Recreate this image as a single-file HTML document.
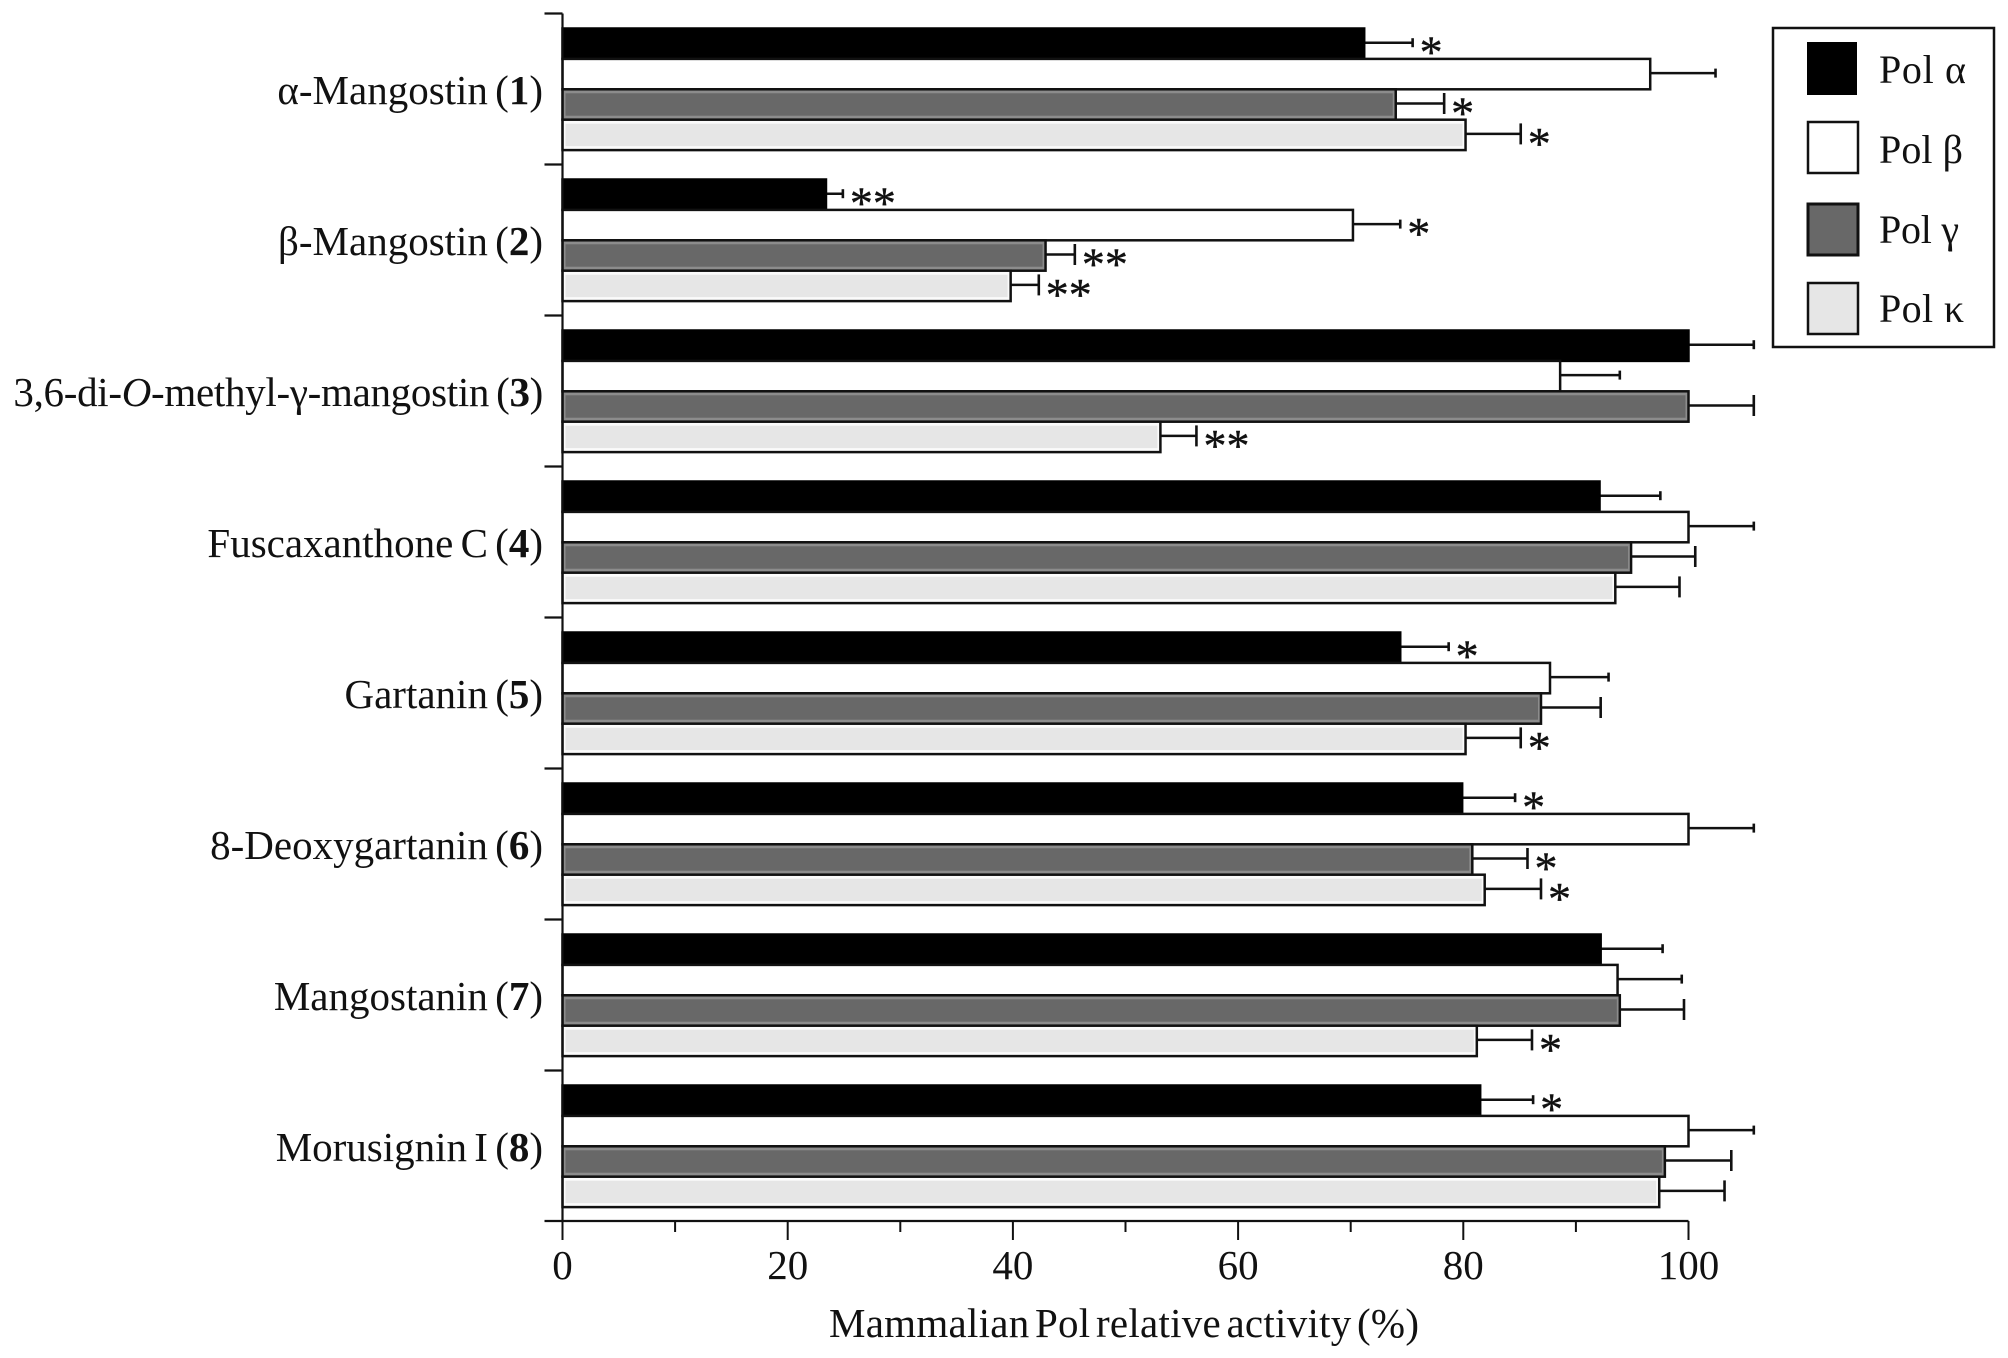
<!DOCTYPE html>
<html lang="en">
<head>
<meta charset="utf-8">
<title>Mammalian Pol relative activity</title>
<style>
html,body{margin:0;padding:0;background:#fff;}
svg{display:block;}
text{font-family:"Liberation Serif",serif;fill:#111;}
</style>
</head>
<body>
<svg id="chart" xmlns="http://www.w3.org/2000/svg" width="2008" height="1358" viewBox="0 0 2008 1358">
  <rect x="0" y="0" width="2008" height="1358" fill="#fff"/>
  <g id="plot"></g>
  <text x="829" y="1337" font-size="41" word-spacing="-5" textLength="590" lengthAdjust="spacing">Mammalian Pol relative activity (%)</text>
  <g>
    <rect x="1782" y="28" width="221" height="319" fill="#fff" stroke="#111" stroke-width="2.5" transform="translate(-9,0)"/>
    <g>
      <rect x="1816" y="42" width="50" height="53" fill="#000" transform="translate(-9,0)"/>
      <text x="1879" y="83" font-size="40" textLength="87" lengthAdjust="spacing">Pol α</text>
    </g>
    <g>
      <rect x="1808" y="122" width="50" height="51" fill="#fff" stroke="#111" stroke-width="2.5"/>
      <text x="1879" y="163" font-size="40" textLength="84" lengthAdjust="spacing">Pol β</text>
    </g>
    <g>
      <rect x="1808" y="204" width="50" height="51" fill="#686868" stroke="#111" stroke-width="3"/>
      <text x="1879" y="243" font-size="40" textLength="80" lengthAdjust="spacing">Pol γ</text>
    </g>
    <g>
      <rect x="1808" y="283" width="50" height="51" fill="#e6e6e6" stroke="#111" stroke-width="2.5"/>
      <text x="1879" y="322" font-size="40" textLength="85" lengthAdjust="spacing">Pol κ</text>
    </g>
  </g>
</svg>
<script>
const categories = ['α-Mangostin','β-Mangostin','3,6-di-O-methyl-γ-mangostin','Fuscaxanthone C','Gartanin','8-Deoxygartanin','Mangostanin','Morusignin I'];
const compoundNumbers = ['1','2','3','4','5','6','7','8'];
const seriesNames = ['pol-alpha','pol-beta','pol-gamma','pol-kappa'];
const polAlpha = [71.2,23.4,100,92.1,74.4,79.9,92.2,81.5];
const polBeta = [96.6,70.2,88.6,100,87.7,100,93.7,100];
const polGamma = [74.0,42.9,100,94.9,86.9,80.8,93.9,97.9];
const polKappa = [80.2,39.8,53.1,93.5,80.2,81.9,81.2,97.4];
const errAlpha = [4.3,1.5,5.8,5.4,4.3,4.7,5.5,4.7];
const errBeta = [5.8,4.2,5.3,5.8,5.2,5.8,5.7,5.8];
const errGamma = [4.3,2.6,5.8,5.7,5.3,4.9,5.7,5.9];
const errKappa = [4.9,2.5,3.2,5.7,4.9,5.0,4.9,5.8];
const starsAlpha = [1,2,0,0,1,1,0,1];
const starsBeta = [0,1,0,0,0,0,0,0];
const starsGamma = [1,2,0,0,0,1,0,0];
const starsKappa = [1,2,2,0,1,1,1,0];
const xTicks = [0,10,20,30,40,50,60,70,80,90,100];
const xTickLabels = ['0','','20','','40','','60','','80','','100'];

const seriesValues = [polAlpha,polBeta,polGamma,polKappa];
const seriesErrors = [errAlpha,errBeta,errGamma,errKappa];
const seriesStars = [starsAlpha,starsBeta,starsGamma,starsKappa];

const NS = 'http://www.w3.org/2000/svg';
const plot = document.getElementById('plot');
const X0 = 562.5, X100 = 1688.5, YTOP = 13.5, GROUP = 151;
const BAR_OFFSET = 15, BAR_H = 30.4;
const barFill = ['#000','#fff','#686868','#e6e6e6'];
const barHalo = ['#000','#fff','#8c8c8c','#fbfbfb'];
const capH = [9,9,21,21];
const xScale = v => X0 + (X100 - X0) * v / 100;
const groupTop = i => YTOP + GROUP * i;
const barTop = (i, s) => groupTop(i) + BAR_OFFSET + BAR_H * s;
const AXIS_Y = groupTop(categories.length) - 0.5;

function mk(tag, attrs, parent) {
  const el = document.createElementNS(NS, tag);
  for (const k in attrs) el.setAttribute(k, attrs[k]);
  (parent || plot).appendChild(el);
  return el;
}

/* error bars and significance marks sit beneath the bars */
seriesNames.forEach((name, s) => {
  categories.forEach((c, i) => {
    const v = seriesValues[s][i], e = seriesErrors[s][i];
    const cy = barTop(i, s) + BAR_H / 2 - 1;
    const xa = xScale(v), xb = xScale(v + e);
    const whisker = mk('line', {x1: xa, x2: xb, y1: cy, y2: cy, stroke: '#111', 'stroke-width': 2.5});
    
    
    const cap = mk('line', {x1: xb, x2: xb, y1: cy - capH[s] / 2, y2: cy + capH[s] / 2, stroke: '#111', 'stroke-width': 2.6});
    
    
    const n = seriesStars[s][i];
    if (n > 0) {
      const star = mk('text', {x: xb + 7, y: cy + 25, 'font-size': 46, stroke: '#111', 'stroke-width': 0.4});
      star.textContent = '*'.repeat(n);
      
      
    }
  });
});

/* bars */
seriesNames.forEach((name, s) => {
  categories.forEach((c, i) => {
    const v = seriesValues[s][i];
    const y = barTop(i, s), w = xScale(v) - X0;
    const bar = mk('rect', {x: X0, y: y, width: w, height: BAR_H, fill: barHalo[s], stroke: s === 0 ? '#000' : '#111', 'stroke-width': 2.5});
    
    
    if (s >= 2) {
      const inner = mk('rect', {x: X0 + 3, y: y + 4, width: Math.max(0, w - 6), height: BAR_H - 8, fill: barFill[s]});
      
      
    }
  });
});

/* y axis */
const yAxis = mk('line', {x1: X0, x2: X0, y1: YTOP, y2: AXIS_Y, stroke: '#111', 'stroke-width': 2.2});


for (let i = 0; i <= categories.length; i++) {
  const t = mk('line', {x1: X0 - 18, x2: X0, y1: i === categories.length ? AXIS_Y : groupTop(i), y2: i === categories.length ? AXIS_Y : groupTop(i), stroke: '#111', 'stroke-width': 2.2});
  
  
}

/* category labels */
categories.forEach((c, i) => {
  const label = mk('text', {x: 543, y: groupTop(i) + 90.5, 'font-size': 41, 'text-anchor': 'end', 'word-spacing': '-3'});
  
  
  const m = c.match(/^(.*-)(O)(-.*)$/);
  if (m) {
    label.setAttribute('letter-spacing', '-0.3');
    label.appendChild(document.createTextNode(m[1]));
    const it = mk('tspan', {'font-style': 'italic'}, label);
    it.textContent = m[2];
    label.appendChild(document.createTextNode(m[3] + ' ('));
  } else {
    label.appendChild(document.createTextNode(c + ' ('));
  }
  const num = mk('tspan', {'font-weight': 'bold'}, label);
  num.textContent = compoundNumbers[i];
  label.appendChild(document.createTextNode(')'));
});

/* x axis */
const xAxis = mk('line', {x1: X0, x2: X100, y1: AXIS_Y, y2: AXIS_Y, stroke: '#111', 'stroke-width': 2.2});


xTicks.forEach((v, k) => {
  const major = xTickLabels[k] !== '';
  const x = xScale(v);
  const t = mk('line', {x1: x, x2: x, y1: AXIS_Y, y2: AXIS_Y + (major ? 19 : 11), stroke: '#111', 'stroke-width': 2});
  
  
  if (major) {
    const lab = mk('text', {x: x, y: 1279, 'font-size': 41, 'text-anchor': 'middle'});
    lab.textContent = xTickLabels[k];
    
    
  }
});
</script>
</body>
</html>
